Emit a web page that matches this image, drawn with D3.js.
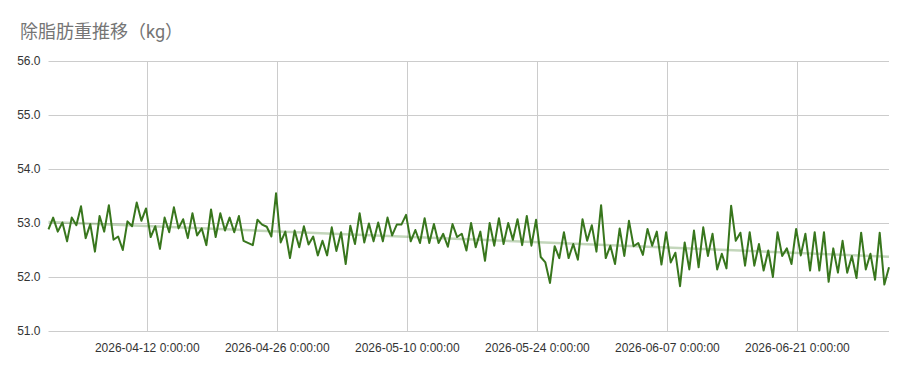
<!DOCTYPE html>
<html>
<head>
<meta charset="utf-8">
<script src="https://cdn.jsdelivr.net/npm/d3@7"></script>
<style>
  body { margin: 0; background: #fff; }
  .tick text { font-family: "Liberation Sans", Arial, sans-serif; font-size: 12px; fill: #333; }
</style>
</head>
<body>
<div id="chart"></div>
<script>
// one entry per day, morning and evening weighings
const days = [
  "2026-04-01","2026-04-02","2026-04-03","2026-04-04","2026-04-05","2026-04-06","2026-04-07","2026-04-08","2026-04-09","2026-04-10",
  "2026-04-11","2026-04-12","2026-04-13","2026-04-14","2026-04-15","2026-04-16","2026-04-17","2026-04-18","2026-04-19","2026-04-20",
  "2026-04-21","2026-04-22","2026-04-23","2026-04-24","2026-04-25","2026-04-26","2026-04-27","2026-04-28","2026-04-29","2026-04-30",
  "2026-05-01","2026-05-02","2026-05-03","2026-05-04","2026-05-05","2026-05-06","2026-05-07","2026-05-08","2026-05-09","2026-05-10",
  "2026-05-11","2026-05-12","2026-05-13","2026-05-14","2026-05-15","2026-05-16","2026-05-17","2026-05-18","2026-05-19","2026-05-20",
  "2026-05-21","2026-05-22","2026-05-23","2026-05-24","2026-05-25","2026-05-26","2026-05-27","2026-05-28","2026-05-29","2026-05-30",
  "2026-05-31","2026-06-01","2026-06-02","2026-06-03","2026-06-04","2026-06-05","2026-06-06","2026-06-07","2026-06-08","2026-06-09",
  "2026-06-10","2026-06-11","2026-06-12","2026-06-13","2026-06-14","2026-06-15","2026-06-16","2026-06-17","2026-06-18","2026-06-19",
  "2026-06-20","2026-06-21","2026-06-22","2026-06-23","2026-06-24","2026-06-25","2026-06-26","2026-06-27","2026-06-28","2026-06-29",
  "2026-06-30"
];

const morning = [
  52.88,52.84,52.66,52.96,52.72,52.47,52.84,52.69,52.50,52.94,
  53.04,52.74,52.52,52.83,52.90,52.72,52.77,52.59,52.74,52.86,
  52.83,52.67,52.59,52.97,52.75,52.64,52.35,52.55,52.60,52.40,
  52.40,52.48,52.24,52.61,52.64,52.66,52.66,52.77,52.97,52.66,
  52.63,52.63,52.63,52.56,52.74,52.49,52.55,52.30,52.58,52.61,
  52.69,52.59,52.58,52.37,51.89,52.35,52.35,52.32,52.67,52.47,
  52.35,52.24,52.39,52.57,52.41,52.58,52.23,52.27,51.83,52.14,
  52.18,52.39,52.14,52.16,52.67,52.21,52.21,52.12,52.00,52.39,
  52.24,52.40,52.12,52.12,51.91,52.08,52.08,51.98,52.14,51.95,
  51.86
];

const evening = [
  53.10,53.01,53.10,53.31,52.98,53.13,53.33,52.75,53.03,53.38,
  53.27,52.94,53.10,53.29,53.07,53.18,52.90,53.25,53.18,53.10,
  53.13,null,53.06,52.93,53.55,52.84,52.86,52.94,52.75,52.67,
  52.92,52.83,52.95,53.18,52.99,53.01,53.10,52.97,53.15,52.87,
  53.09,52.98,52.80,52.98,52.80,53.00,52.84,53.00,53.09,53.00,
  53.07,53.13,53.06,52.27,52.57,52.83,52.61,53.07,52.96,53.33,
  52.58,52.90,53.04,52.63,52.89,52.84,52.83,52.45,52.64,52.86,
  52.92,52.80,52.43,53.32,52.82,52.83,52.61,52.49,52.83,52.53,
  52.89,52.80,52.83,52.83,52.53,52.67,52.39,52.82,52.43,52.82,
  52.18
];

const xTickDates = ["2026-04-12","2026-04-26","2026-05-10","2026-05-24","2026-06-07","2026-06-21"];
const yTicks = [51, 52, 53, 54, 55, 56];
const titleText = "除脂肪重推移（kg）";

const width = 908, height = 371;
const margin = { top: 61, right: 19, bottom: 40, left: 48.5 };

const parseDay = d3.timeParse("%Y-%m-%d");
const points = [];
days.forEach((d, i) => {
  const day = parseDay(d);
  if (morning[i] != null) points.push({ t: d3.timeHour.offset(day, 10), v: morning[i] });
  if (evening[i] != null) points.push({ t: d3.timeHour.offset(day, 22), v: evening[i] });
});

const svg = d3.select("#chart").append("svg")
  .attr("width", width)
  .attr("height", height);

const x = d3.scaleTime()
  .domain(d3.extent(points, d => d.t))
  .range([margin.left, width - margin.right]);

const y = d3.scaleLinear()
  .domain([51, 56])
  .range([height - margin.bottom, margin.top]);

// gridlines
svg.append("g")
  .selectAll("line.h")
  .data(yTicks)
  .join("line")
  .attr("x1", margin.left).attr("x2", width - margin.right)
  .attr("y1", d => Math.round(y(d)) + 0.5).attr("y2", d => Math.round(y(d)) + 0.5)
  .attr("stroke", "#cccccc");

const xTicks = xTickDates.map(parseDay);
svg.append("g")
  .selectAll("line.v")
  .data(xTicks)
  .join("line")
  .attr("x1", d => Math.round(x(d)) + 0.5).attr("x2", d => Math.round(x(d)) + 0.5)
  .attr("y1", margin.top).attr("y2", height - margin.bottom)
  .attr("stroke", "#cccccc");

// axes (labels only)
const yAxis = svg.append("g")
  .attr("transform", `translate(${margin.left - 5},0)`)
  .call(d3.axisLeft(y).tickValues(yTicks).tickFormat(d3.format(".1f")).tickSize(0));
yAxis.select(".domain").remove();
yAxis.selectAll("text").attr("dx", "0");

const fmtX = d3.timeFormat("%Y-%m-%d 0:00:00");
const xAxis = svg.append("g")
  .attr("transform", `translate(0,${height - margin.bottom + 9})`)
  .call(d3.axisBottom(x).tickValues(xTicks).tickFormat(fmtX).tickSize(0));
xAxis.select(".domain").remove();

// trendline (linear regression)
const xs = points.map(d => +d.t), ys = points.map(d => d.v);
const mx = d3.mean(xs), my = d3.mean(ys);
const slope = d3.sum(xs, (xv, i) => (xv - mx) * (ys[i] - my)) / d3.sum(xs, xv => (xv - mx) * (xv - mx));
const trend = x.domain().map(t => ({ t, v: my + slope * (+t - mx) }));

const line = d3.line().x(d => x(d.t)).y(d => y(d.v));

svg.append("path")
  .datum(trend)
  .attr("d", line)
  .attr("fill", "none")
  .attr("stroke", "#38761d")
  .attr("stroke-opacity", 0.3)
  .attr("stroke-width", 2.5);

svg.append("path")
  .datum(points)
  .attr("d", line)
  .attr("fill", "none")
  .attr("stroke", "#38761d")
  .attr("stroke-width", 2)
  .attr("stroke-linejoin", "round");

svg.append("text")
  .attr("x", 20)
  .attr("y", 38)
  .attr("font-family", "Roboto, 'Noto Sans CJK JP', sans-serif")
  .attr("font-size", 18)
  .attr("fill", "#757575")
  .text(titleText);
</script>
</body>
</html>
